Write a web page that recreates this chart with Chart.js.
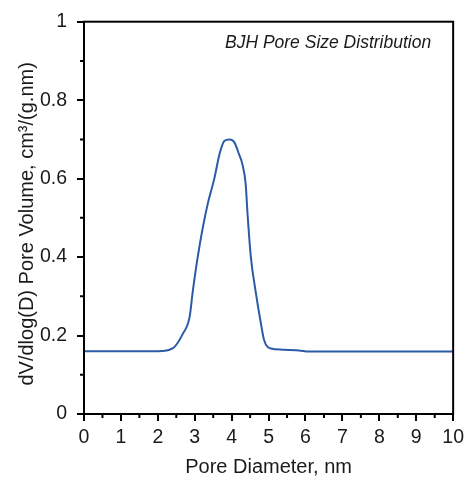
<!DOCTYPE html>
<html>
<head>
<meta charset="utf-8">
<script src="https://cdn.jsdelivr.net/npm/chart.js@4"></script>
<style>
  html, body { margin: 0; padding: 0; background: #fff; }
  #wrap { width: 469px; height: 481px; }
</style>
</head>
<body>
<div id="wrap"><canvas id="psd"></canvas></div>
<script>
// --- data ---
const poreDiameter = [0, 1, 2.0, 2.41, 2.68, 2.86, 2.95, 3.08, 3.22, 3.35, 3.53, 3.67, 3.80, 3.94, 4.07, 4.20, 4.29, 4.38, 4.43, 4.52, 4.65, 4.79, 4.88, 5.06, 5.37, 5.82, 6.1, 8, 10];
const poreVolume   = [0.16, 0.16, 0.16, 0.168, 0.205, 0.247, 0.315, 0.40, 0.476, 0.535, 0.60, 0.662, 0.696, 0.70, 0.693, 0.662, 0.637, 0.586, 0.51, 0.40, 0.312, 0.232, 0.188, 0.167, 0.164, 0.162, 0.159, 0.159, 0.159];
const chartTitle = "BJH Pore Size Distribution";
const yTitle = "dV/dlog(D) Pore Volume, cm³/(g.nm)";

const points = poreDiameter.map((d, i) => ({ x: d, y: poreVolume[i] }));

const FONT = "'Liberation Sans', Arial, sans-serif";
const INK = "#1a1a1a";

const isMajorX = v => Number.isInteger(v);
const isMajorY = v => Math.round(v * 10) % 2 === 0;

// box around the plot, short minor ticks, y title, italic label inside
const frame = {
    id: "frame",
    afterDraw(chart) {
        const { ctx, chartArea: a, scales } = chart;
        ctx.save();
        ctx.strokeStyle = "#000";
        ctx.lineWidth = 2;
        ctx.strokeRect(a.left, a.top, a.right - a.left, a.bottom - a.top);

        // minor ticks (shorter than the major ones)
        ctx.beginPath();
        scales.x.ticks.forEach(t => {
            if (isMajorX(t.value)) return;
            const px = scales.x.getPixelForValue(t.value);
            ctx.moveTo(px, a.bottom);
            ctx.lineTo(px, a.bottom + 4);
        });
        scales.y.ticks.forEach(t => {
            if (isMajorY(t.value)) return;
            const py = scales.y.getPixelForValue(t.value);
            ctx.moveTo(a.left, py);
            ctx.lineTo(a.left - 4, py);
        });
        ctx.stroke();

        ctx.fillStyle = INK;
        ctx.font = "italic 17.5px " + FONT;
        ctx.textAlign = "right";
        ctx.textBaseline = "middle";
        ctx.fillText(chartTitle, a.right - 22, 43);

        // y axis title, a little below the plot centre as in the original
        ctx.translate(27, (a.top + a.bottom) / 2 + 6);
        ctx.rotate(-Math.PI / 2);
        ctx.textAlign = "center";
        ctx.font = "20px " + FONT;
        ctx.fillText(yTitle, 0, 0);
        ctx.restore();
    }
};

new Chart(document.getElementById("psd"), {
    type: "scatter",
    data: {
        datasets: [{
            data: points,
            showLine: true,
            borderColor: "#2c5ba6",
            borderWidth: 2,
            pointRadius: 0,
            cubicInterpolationMode: "monotone",
            fill: false
        }]
    },
    options: {
        responsive: true,
        maintainAspectRatio: false,
        animation: false,
        layout: { padding: { left: 0, right: 14, top: 20, bottom: 0 } },
        plugins: { legend: { display: false }, tooltip: { enabled: false } },
        scales: {
            x: {
                type: "linear",
                min: 0, max: 10,
                afterFit: s => { s.height = 67; },
                border: { color: "#000", width: 2 },
                grid: {
                    drawOnChartArea: false, drawTicks: true, tickLength: 7, lineWidth: 2,
                    color: c => isMajorX(c.tick.value) ? "#000" : "rgba(0,0,0,0)"
                },
                ticks: {
                    stepSize: 0.5,
                    autoSkip: false,
                    maxRotation: 0,
                    padding: 5,
                    color: INK,
                    font: { family: FONT, size: 19.5 },
                    callback: v => isMajorX(v) ? String(v) : ""
                },
                title: { display: true, text: "Pore Diameter, nm", color: INK, font: { family: FONT, size: 20 }, padding: { bottom: 2 } }
            },
            y: {
                min: 0, max: 1,
                afterFit: s => { s.width = 84; },
                border: { color: "#000", width: 2 },
                grid: {
                    drawOnChartArea: false, drawTicks: true, tickLength: 7, lineWidth: 2,
                    color: c => isMajorY(c.tick.value) ? "#000" : "rgba(0,0,0,0)"
                },
                ticks: {
                    stepSize: 0.1,
                    autoSkip: false,
                    padding: 10,
                    color: INK,
                    font: { family: FONT, size: 19.5 },
                    callback: v => isMajorY(v) ? String(Math.round(v * 10) / 10) : ""
                }
            }
        }
    },
    plugins: [frame]
});
</script>
</body>
</html>
